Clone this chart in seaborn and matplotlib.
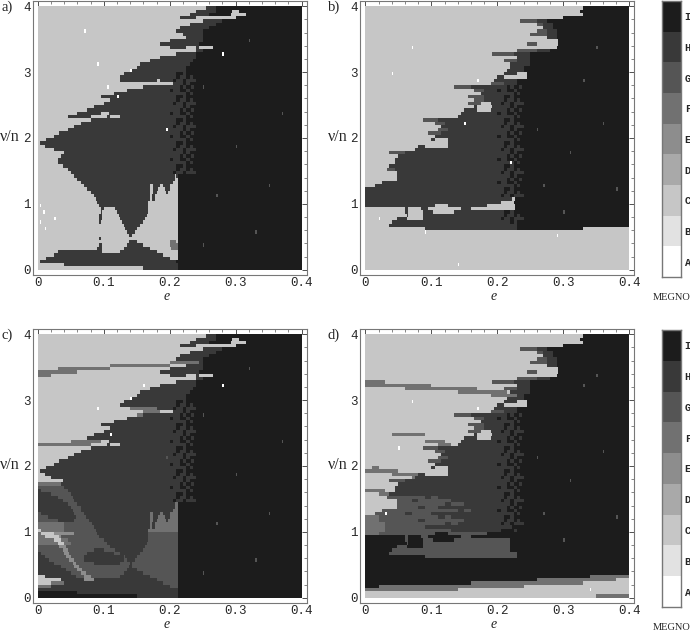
import re
import numpy as np
import seaborn as sns
import matplotlib
matplotlib.use("Agg")
import matplotlib.pyplot as plt
from matplotlib.colors import ListedColormap

W, H = 690, 631

levels = ["A", "B", "C", "D", "E", "F", "G", "H", "I"]
grays = ["#ffffff", "#e2e2e2", "#c6c6c6", "#a9a9a9", "#8d8d8d", "#717171", "#555555", "#393939", "#1c1c1c"]

# each row: runs of level + right end in e (hundredths), from v/n=3.975 down to 0.025 in steps of 0.05
rows_a = [
    "C25.5H27I40", "C24H27I29.6C30.4I40", "C23H26I29.3C31.5I40", "C21.5H24C30I40", "C25H28I40",
    "C23H27I40", "C21.5H26I40", "C21H25I40", "C22H25I40", "C22.5H25I40",
    "C20H25I40", "C18.5H24.5I40", "C20H22.5C24H24.5C26.5I40", "C24H25I40", "C21H24I40",
    "C18.5H24I40", "C17H23.5I40", "C15.5H23I40", "C15H22.5I40", "C14H22.5I40",
    "C13H22I40", "C12.5H22I40", "C12.5H18C18.5H22I40", "C20.5H22I40", "C16H22I40",
    "C13.5H22I40", "C11.5H22I40", "C9.5H22I40", "C11H22I40", "C10H22I40",
    "C8.5H22I40", "C7.5H22I40", "C6H9.5C10.7H22I40", "C4.6H8C10.5H11C12.5H22I40", "C8H22I40",
    "C6.5H22I40", "C5.5H22I40", "C4.5H22I40", "C3.2H22I40", "C2.5H22I40",
    "C1.2H22I40", "C0.2H22I40", "C1H22I40", "C2.5H22I40", "C4H22I40",
    "C3.5H22I40", "C3H22I40", "C3H22I40", "C3.7H22I40", "C4.5H22I40",
    "C5H22I40", "C5.5H20.8C21H21.3I40", "C6H20.7C21.3I40", "C6.5H20.5C21.3I40", "C7H17C17.5H18.5C19H20C21.3I40",
    "C7.5H17C17.4H18.2C19.2H20C21.3I40", "C8H17C17.4H18C19.5H19.8C21.3I40", "C8.5H16.9C17.3H17.8C21.3I40", "C8.7H17C17.3H17.7C21.3I40", "C9H16.8C21.2I40",
    "C9.2H16.8C21.2I40", "C9.4H9.9C11.7H16.8C21.2I40", "C9.4H9.8C12H16.7C21.2I40", "C9.3H9.7C12.2H16.6C21.2I40", "C9.2H9.7C12.5H16.3C21.2I40",
    "C9.3H9.6C12.8H15.9C21.2I40", "C9.4H9.6C13.1H15.5C21.2I40", "C9.4H9.6C13.3H15C21.2I40", "C9.4H9.6C13.5H14.7C21.2I40", "C9.4H9.6C13.8H14.3C21.2I40",
    "C9.3H9.5C21.2I40", "C9.4H9.6C13.7H15C20F21C21.2I40", "C9.3H9.7C13.4H16C20F21.2I40", "C9H9.8C13H17C20.2F21.2I40", "C3H9.8C12.5H18C21.2I40",
    "C2.5H19C21.2I40", "C1.3H20C21.2I40", "C0.2H21I40", "C4H21.3I40", "C16H21.3I40",
]

rows_b = [
    "C33I40", "C32.5I40", "C33I40", "C30I40", "C23.5G26H27.5I40",
    "C26G27H28.5I40", "C27H28.5I40", "C26G27.5H29I40", "C25G27.5H29I40", "C27.5H29I40",
    "C29.3I40", "C24.5G26C29.3I40", "C29I40", "C23G26H28I40", "C19.2G22.5H25I40",
    "C23H25I40", "C21G23H25I40", "C22H25I40", "C22H24I40", "C21.5H24I40",
    "C21H23C24.5I40", "C20H21C24.5I40", "C19.5H23I40", "C19G21H23I40", "C13.5G16H22I40",
    "C16.5G18H22I40", "C17.5H22I40", "C15.5G18H22I40", "C16.5G18H22I40", "C15.5G17.5C19H22I40",
    "C16.5H17C19.2H22I40", "C15H17C19H22I40", "C14.5H22I40", "C14H22I40", "C8.8G11H22I40",
    "C10.5G12H22I40", "C11.5H22I40", "C11G12.5H22I40", "C9.5G11.5H22I40", "C10.5H22I40",
    "C10H10.5C12.6H22I40", "C12.6H22I40", "C8H9C12.5H22I40", "C7.5H22I40", "C3.5G6H22I40",
    "C5H22I40", "C4.5H22I40", "C4.5H22I40", "C3.5H22I40", "C3.2G4.5H22I40",
    "C4.8H22I40", "C4.8H22I40", "C4.7H22I40", "C2.5H22I40", "C1.5H22I40",
    "H22I40", "H22I40", "H22I40", "H22.2C22.7I40", "H20.5C22.5I40",
    "H10.5C12.5H18.4C22.7I40", "C6H6.5C8.5H9.5C14.5H16C22.8I40", "C6H6.5C8.8H10.3C13.6H22I40", "C6.3H6.6C8.7H22I40", "C4.8H6.2C8.8H22I40",
    "C4H22I40", "C3.5H23I40", "C9H23I33C40", "C40", "C40",
    "C40", "C40", "C40", "C40", "C40",
    "C40", "C40", "C40", "C40", "C40",
]

# panel c and d differ from a and b only in these rows (key is v/n of the row)
changes_c = {
    3.575: "C20F24.5H25I40", 3.525: "C11F20C22.5H25I40", 3.475: "C3F11C20H25I40", 3.425: "F6C18.5H24.5I40",
    3.375: "F2C20H22.5C24H24.5C26.5I40", 2.875: "C14F18H22I40", 2.825: "C16F18.5C20.5H22I40", 2.775: "C15F16H22I40",
    2.375: "C5F9.5C10.7H22I40", 2.325: "F8C10.5H11C12.5H22I40",
    1.825: "C2H22I40", 1.775: "C3.8H22I40", 1.725: "F3.5H22I40", 1.675: "G4H22I40", 1.625: "H0.5G4.5H22I40",
    1.575: "H2G5H22I40", 1.525: "H3G5.3H22I40", 1.475: "H3.8G5.6H22I40", 1.425: "H4.5G6H20.8F21.3I40",
    1.375: "H5G6.5H20.8F21.3I40", 1.325: "H5.3G6.5H20.5F21.3I40", 1.275: "G0.5H5.6G7H17F17.5H18.5F19H20F21.3I40",
    1.225: "G1.5H5.7G7.2H17F17.4H18.2F19.2H20F21.3I40", 1.175: "G3H5.5G7.7H17F17.4H18F19.5H19.8F21.3I40",
    1.125: "F4G8.2H16.9F17.3H17.8F21.3I40", 1.075: "F4G8.5H17F17.3H17.7F21.3I40", 1.025: "C0.5F4G8.7H16.8F21.2I40",
    0.975: "F0.5C2.5E5.5G9H16.8G21.2I40", 0.925: "F1C3.2E3.5G9.2H16.8G21.2I40", 0.875: "F2.5C3.5F4.5G10H16.7G21.2I40",
    0.825: "F3C4F5G10.5H16.6G21.2I40", 0.775: "G3.3E4.2G11H16.3G21.2I40", 0.725: "G3.7E4.5G8.5H10G11.8H15.9G21.2I40",
    0.675: "H0.5G4E4.8G7.5H11.5G12.5H15.5G21.2I40", 0.625: "H1G4.3E5G7H13G13.3H15G21.2I40",
    0.575: "H1.8G4.8E5.4G7H13G13.5H14.7G21.2I40", 0.525: "H2.6G5.2E5.8G8.5H12.5G14H14.3G21.2I40",
    0.475: "H3.4G5.5E6.3G13.8H14.2G21.2I40", 0.425: "H4.3G6E6.8G13.5H15G21.2I40", 0.375: "H5G6.5E7.2G13H16G21.2I40",
    0.325: "C1H5.8G7E8G12.5H17G21.2I40", 0.275: "C3.5H7E8.5H18G21.2I40", 0.225: "C2F4H19G21.2I40",
    0.175: "F2H20G21.2I40", 0.125: "H21.3I40", 0.075: "I6H21.3I40", 0.025: "I15H21.3I40",
}

changes_d = {
    3.275: "F3C19.2G22.5H25I40", 3.225: "F10C23H25I40", 3.175: "C6F17C21G23H25I40", 3.125: "C14F21.5C22H25I40",
    3.075: "C19F23H24I40", 2.475: "C4F9C16.5H17C19.2H22I40", 2.375: "C9F12C14.5H22I40", 2.325: "C11F13C14H22I40",
    1.975: "C1F2C10H10.5C12.6H22I40", 1.925: "F5C12.6H22I40", 1.875: "C4F8H9C12.5H22I40", 1.825: "C7F7.5H22I40",
    1.625: "F3C4.5H22I40", 1.575: "C2F3.5H22I40",
    1.525: "C3.2G9H10G11H22I40", 1.475: "C4.8G7H8G13H22I40", 1.425: "C4.8G12H13G15H22I40", 1.375: "C4.7G8H9G11H22I40",
    1.325: "C2.5G14H15G16H22I40", 1.275: "C1.5G6H7G10H22I40", 1.225: "F2G11H12G13H22I40", 1.175: "F2G8H9G15H22I40",
    1.125: "F3G12H13G14H22I40", 1.075: "F3G9H22.2I40", 1.025: "F3G13H20.5I22.5H23I40",
    0.975: "F2G10.5I12.5G18.4I40", 0.925: "I6G6.5I8.5G9.5I14.5G16I40", 0.875: "I6G6.5I8.8G10.3I13.6G22I40",
    0.825: "I6.3G6.6I8.7G22I40", 0.775: "I4.8G6.2I8.8G22I40", 0.725: "I4G22I40", 0.675: "I3.5G23I40", 0.625: "I9G23I40",
    0.575: "I40", 0.525: "I40", 0.475: "I40", 0.425: "I40", 0.375: "I40", 0.325: "I34F40", 0.275: "I26F38C40",
    0.225: "I16F33C40", 0.175: "I2F24C40", 0.125: "F14C40", 0.075: "C40", 0.025: "C35F40",
}

# the H/I edge is ragged in the picture, these are the forms it takes row after row
edge_forms = ["H21I21.5H22.5I23H23.5I40", "H20.5I21H22I22.5H24I40", "H22I22.5H23I40",
              "H21.5I22H22.5I23.2H23.7I40", "H20I20.5H21.5I22.5H23I40", "H22.5I23H23.5I40", "H21I22H22.5I40"]

# a few isolated pixels: e (hundredths), v/n, level
specks_a = [(0.4, 0.95, "A"), (0.8, 0.85, "A"), (0.3, 0.75, "A"), (1.2, 0.65, "A"), (2.5, 0.8, "A"), (9, 3.1, "A"), (10.5, 2.8, "A"),
            (7, 3.6, "A"), (12, 2.6, "A"), (19.5, 2.15, "A"), (14, 3.05, "A"), (30, 1.9, "G"), (25, 2.8, "G"), (35, 1.3, "G"),
            (28, 3.3, "A"), (33, 0.6, "G"), (37, 2.4, "G"), (27, 1.1, "G"), (32, 3.5, "G"), (25, 0.4, "G")]
specks_b = [(4, 2.95, "A"), (2, 0.8, "A"), (22, 1.6, "A"), (17, 2.9, "A"), (7, 3.4, "A"), (29, 0.55, "A"), (14, 0.1, "A"), (33, 2.9, "G"), (31, 1.8, "G"),
            (38, 1.2, "G"), (27, 1.3, "G"), (9, 0.6, "A"), (15, 2.25, "A"), (35, 3.4, "G"), (30, 0.9, "G"), (26, 2.1, "G"), (36, 2.2, "G")]
specks_c = [(14, 3.05, "A"), (9, 2.85, "A"), (19.5, 2.15, "G"), (28, 3.25, "A"), (30, 1.9, "G"), (25, 2.8, "G"), (35, 1.3, "G"), (11, 2.5, "A"), (16, 3.2, "A"),
            (33, 0.6, "G"), (37, 2.4, "G"), (27, 1.1, "G"), (32, 3.5, "G"), (25, 0.4, "G")]
specks_d = [(7, 2.95, "A"), (3, 1.3, "A"), (17, 2.85, "A"), (33, 3.2, "G"), (31, 1.8, "G"), (38, 1.2, "G"), (27, 1.3, "G"), (34, 0.15, "A"), (5, 2.3, "A"),
            (35, 3.4, "G"), (30, 0.9, "G"), (26, 2.1, "G"), (36, 2.2, "G")]

xtick_vals = [0, 0.1, 0.2, 0.3, 0.4]
ytick_vals = [0, 1, 2, 3, 4]


def build(rows, changes, specks):
    rows = list(rows)
    for v, text in changes.items():
        rows[int((4 - v) / 0.05)] = text
    grid = np.zeros((80, 160))
    for i, text in enumerate(rows):
        text = text.replace("H22I40", edge_forms[i % len(edge_forms)])
        start = 0
        for name, end in re.findall(r"([A-I])([\d.]+)", text):
            stop = int(round(float(end) * 4))
            grid[i, start:stop] = levels.index(name)
            start = max(start, stop)
    for e, v, name in specks:
        grid[int((4 - v) / 0.05), int(e * 4)] = levels.index(name)
    return grid


def make_axes(x0, x1, y0, y1):
    return fig.add_axes([x0 / W, 1 - y1 / H, (x1 - x0) / W, (y1 - y0) / H])


def panel(grid, x0, y0, name, name_x):
    ax = make_axes(x0, x0 + 274.5, y0, y0 + 274)
    sns.heatmap(grid, ax=ax, cmap=cmap, vmin=-0.5, vmax=8.5, cbar=False, xticklabels=False, yticklabels=False)
    ax.set_xlim(-3.3, 163.3)
    ax.set_ylim(81.6, -1.6)
    ax.set_xticks([e * 400 for e in xtick_vals])
    ax.set_xticklabels(["0", "0.1", "0.2", "0.3", "0.4"], family="Liberation Mono", fontsize=9)
    ax.set_yticks([(4 - v) * 20 for v in ytick_vals])
    ax.set_yticklabels([str(v) for v in ytick_vals], family="Liberation Mono", fontsize=9, rotation=0)
    ax.set_xticks(np.arange(0, 161, 8), minor=True)
    ax.set_yticks(np.arange(0, 81, 4), minor=True)
    ax.tick_params(which="major", direction="in", length=3.5, width=0.6, top=True, right=True, pad=1.5, color="#333333")
    ax.tick_params(which="minor", direction="in", length=2, width=0.5, top=True, right=True, color="#555555")
    for s in ax.spines.values():
        s.set_visible(True)
        s.set_color("#777777")
        s.set_linewidth(0.8)
    fig.text((x0 + 134) / W, 1 - (y0 + 295) / H, "e", family="Liberation Serif", style="italic", fontsize=10, ha="center", va="center")
    fig.text((x0 - 22.5) / W, 1 - (y0 + 136) / H, "ν/n", family="Liberation Serif", fontsize=11.5, ha="center", va="center")
    fig.text(name_x / W, 1 - (y0 + 6) / H, name, family="Liberation Serif", fontsize=10.5, ha="left", va="center")


def scale(y0, y1):
    ax = make_axes(662, 680.5, y0, y1)
    sns.heatmap(np.arange(8, -1, -1).reshape(9, 1), ax=ax, cmap=cmap, vmin=-0.5, vmax=8.5, cbar=False, xticklabels=False)
    ax.yaxis.tick_right()
    ax.set_yticks(np.arange(9) + 0.5)
    ax.set_yticklabels(levels[::-1], family="Liberation Mono", fontsize=7.5, rotation=0, weight="bold")
    ax.tick_params(axis="y", length=0, pad=3)
    for s in ax.spines.values():
        s.set_visible(True)
        s.set_color("#777777")
        s.set_linewidth(1.0)
    fig.text(672 / W, 1 - (y1 + 21) / H, "MEGNO", family="Liberation Serif", fontsize=7.5, ha="center", va="center")


sns.set_theme(style="white")
cmap = ListedColormap(grays)
fig = plt.figure(figsize=(W / 100, H / 100), dpi=100)

panel(build(rows_a, {}, specks_a), 32.5, 1, "a)", 1)
panel(build(rows_b, {}, specks_b), 360, 1, "b)", 328)
panel(build(rows_a, changes_c, specks_c), 32.5, 329, "c)", 1)
panel(build(rows_b, changes_d, specks_d), 360, 329, "d)", 328)
scale(1, 277)
scale(330, 607)

fig.savefig("out.png", dpi=100)
